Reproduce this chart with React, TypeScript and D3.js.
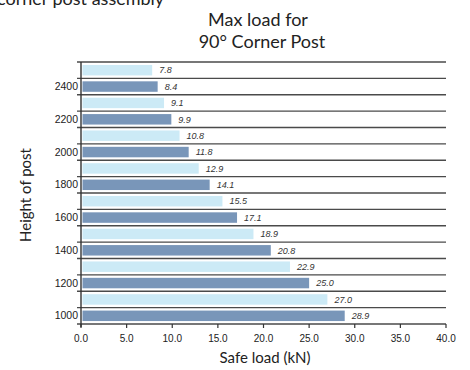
import React from "react";
import * as d3 from "d3";

const heights = [2500, 2400, 2300, 2200, 2100, 2000, 1900, 1800, 1700, 1600, 1500, 1400, 1300, 1200, 1100, 1000];
const loads = [7.8, 8.4, 9.1, 9.9, 10.8, 11.8, 12.9, 14.1, 15.5, 17.1, 18.9, 20.8, 22.9, 25.0, 27.0, 28.9];
const xTicks = [0, 5, 10, 15, 20, 25, 30, 35, 40];
const labeledHeights = [2400, 2200, 2000, 1800, 1600, 1400, 1200, 1000];

const W = 470, H = 370;
const left = 81, right = 446, top = 62, bottom = 324;

export default function App() {
  const x = d3.scaleLinear().domain([0, 40]).range([left, right]);
  const y = d3.scaleBand<number>().domain(heights).range([top, bottom]).paddingInner(0.36).paddingOuter(0.18);
  const step = y.step();
  const boundaries = d3.range(heights.length + 1).map((i) => top + i * step);
  const sans = "'Liberation Sans', Arial, sans-serif";
  const gill = "Lato, 'Open Sans', sans-serif";
  return (
    <svg width={W} height={H} style={{ position: "absolute", left: 0, top: 0, background: "#fff" }}>
      <text x={-3} y={5} fontFamily={gill} fontSize={18} fill="#222">corner post assembly</text>
      <text x={258} y={25.5} textAnchor="middle" fontFamily={gill} fontSize={18} fill="#222">Max load for</text>
      <text x={262} y={48} textAnchor="middle" fontFamily={gill} fontSize={18} fill="#222">90° Corner Post</text>

      {heights.map((h, i) => (
        <rect key={h} x={x(0) + 1.5} y={y(h)!} width={x(loads[i]) - x(0) - 1.5} height={y.bandwidth()}
          fill={i % 2 === 0 ? "#cceaf6" : "#7996b9"} />
      ))}

      {boundaries.map((b, i) => (
        <g key={i}>
          <line x1={x(0) - 4} x2={right} y1={b} y2={b} stroke="#4a4a4a" strokeWidth={1.4} />
        </g>
      ))}
      <line x1={x(0)} x2={x(0)} y1={top} y2={bottom + 3} stroke="#333" strokeWidth={1.4} />
      {xTicks.map((t) => (
        <g key={t}>
          <line x1={x(t)} x2={x(t)} y1={bottom} y2={bottom + 4} stroke="#333" strokeWidth={1.2} />
          <text x={x(t)} y={341.5} textAnchor="middle" fontFamily={sans} fontSize={10} fill="#222">{t.toFixed(1)}</text>
        </g>
      ))}

      {labeledHeights.map((h) => (
        <text key={h} x={78} y={y(h)! + y.bandwidth() / 2 + 3.6} textAnchor="end" fontFamily={sans} fontSize={10.5} fill="#222">{h}</text>
      ))}

      {heights.map((h, i) => (
        <text key={h} x={x(loads[i]) + 7} y={y(h)! + y.bandwidth() / 2 + 3.2} fontFamily={sans} fontStyle="italic" fontSize={9} fill="#333">{loads[i].toFixed(1)}</text>
      ))}

      <text x={265} y={363} textAnchor="middle" fontFamily={gill} fontSize={15} fill="#222">Safe load (kN)</text>
      <text transform={`translate(31,195) rotate(-90)`} textAnchor="middle" fontFamily={gill} fontSize={15} fill="#222">Height of post</text>
    </svg>
  );
}
